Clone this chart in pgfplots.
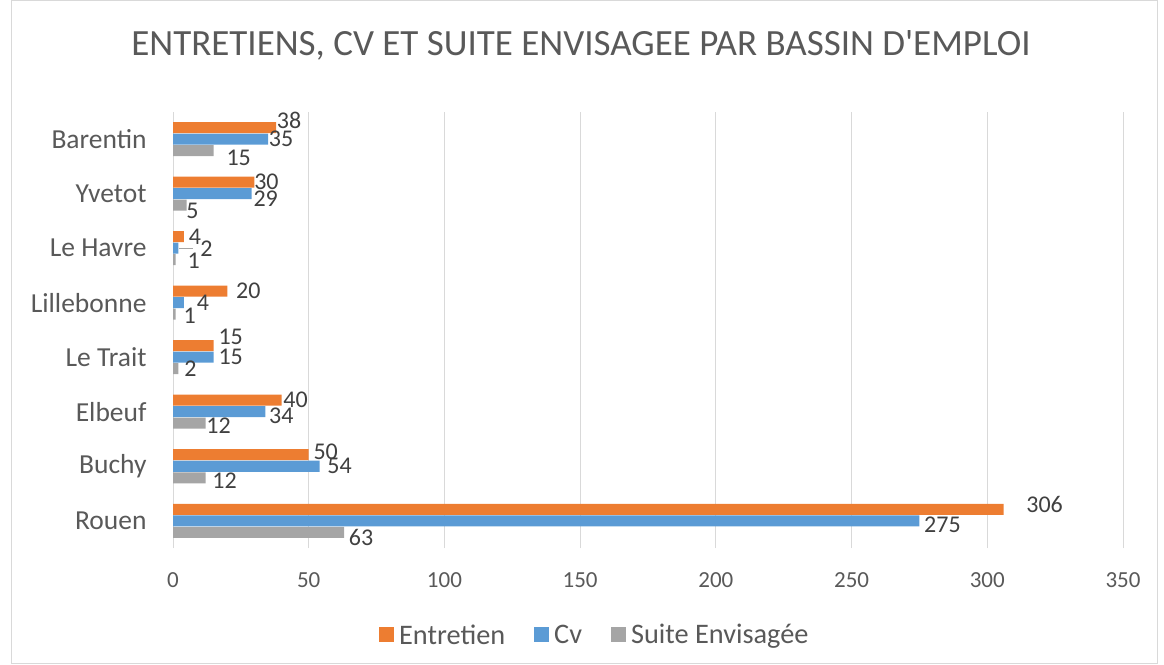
\documentclass[border=0pt]{standalone}
\usepackage{fontspec}
\setmainfont{Carlito}
\newfontfamily\titlefont{Carlito}[Ligatures=TeXOff]
\usepackage{pgfplots}
\usepackage{pgfplotstable}
\pgfplotsset{compat=1.18}
\definecolor{cOr}{HTML}{ED7D31}
\definecolor{cBl}{HTML}{5B9BD5}
\definecolor{cGr}{HTML}{A5A5A5}
\definecolor{txt}{HTML}{595959}
\definecolor{lbl}{HTML}{404040}
\definecolor{gridc}{HTML}{D9D9D9}
% x = value, y = category index (0 = Rouen ... 7 = Barentin), dx/dy = label offset
\pgfplotstableread{
x   y  dx  dy
306 0  41  5
50  1  17  3
40  2  14  0
15  3  17  9
20  4  21  0
4   5  11  0
30  6  12  0
38  7  13  7
}\tabE
\pgfplotstableread{
x   y  dx  dy
275 0  23  -4
54  1  20  0
34  2  16  -4
15  3  17  0
4   4  19  0
2   5  28  0
29  6  14  -5
35  7  13  0
}\tabC
\pgfplotstableread{
x   y  dx  dy
63  0  17  -5
12  1  19  -3
12  2  13  -2
2   3  12  0
1   4  14  -2
1   5  18  -1
5   6  6   -6
15  7  25  -7
}\tabS
\begin{document}
\begin{tikzpicture}[x=1pt,y=1pt]
\useasboundingbox (0,0) rectangle (1164,664);
\draw[color=gridc, line width=1pt] (11,1) rectangle (1157,663);
\node[text=txt, font=\titlefont\fontsize{37}{42}\selectfont] at (581,619) {ENTRETIENS, CV ET SUITE ENVISAGEE PAR BASSIN D'EMPLOI};
\begin{axis}[
  at={(173pt,116pt)}, anchor=south west, scale only axis,
  width=950pt, height=436pt,
  xbar, xmin=0, xmax=350, ymin=-0.5, ymax=7.5,
  xtick={0,50,...,350}, ytick={0,...,7},
  yticklabels={Rouen,Buchy,Elbeuf,Le Trait,Lillebonne,Le Havre,Yvetot,Barentin},
  /pgf/number format/assume math mode=true,
  axis line style={draw=none}, tick style={draw=none},
  xmajorgrids, grid style={color=gridc, line width=1pt},
  bar width=11pt,
  x tick label style={anchor=center, yshift=-32pt, font=\fontsize{23}{27}\selectfont, text=txt},
  y tick label style={anchor=east, inner sep=0pt, xshift=-22pt, font=\fontsize{27.5}{32}\selectfont, text=txt},
  nodes near coords,
  visualization depends on={\thisrow{dx} \as \ldx},
  visualization depends on={\thisrow{dy} \as \ldy},
  every node near coord/.append style={anchor=center, inner sep=0pt, xshift=\ldx pt, yshift=\ldy pt,
     font=\fontsize{24}{28}\selectfont, text=lbl},
  reverse legend,
  legend style={at={(0.444,-0.1995)}, anchor=center, draw=none, legend columns=-1,
     font=\fontsize{28.3}{32}\selectfont, text=txt,
     /tikz/every even column/.append style={column sep=27pt},
     /tikz/every odd column/.append style={column sep=3pt}},
  legend image code/.code={\fill[#1] (0pt,-7.5pt) rectangle (15pt,7.5pt);},
]
\addplot[fill=cGr, draw=none, bar shift=-11.5pt] table[x=x,y=y] {\tabS};
\addlegendentry{Suite Envisagée}
\addplot[fill=cBl, draw=none, bar shift=0pt] table[x=x,y=y] {\tabC};
\addlegendentry{Cv}
\addplot[fill=cOr, draw=none, bar shift=11.5pt] table[x=x,y=y] {\tabE};
\addlegendentry{Entretien}
\draw[cGr, line width=1pt] (axis cs:2.3,5) -- (axis cs:7.2,5);
\end{axis}
\end{tikzpicture}
\end{document}
